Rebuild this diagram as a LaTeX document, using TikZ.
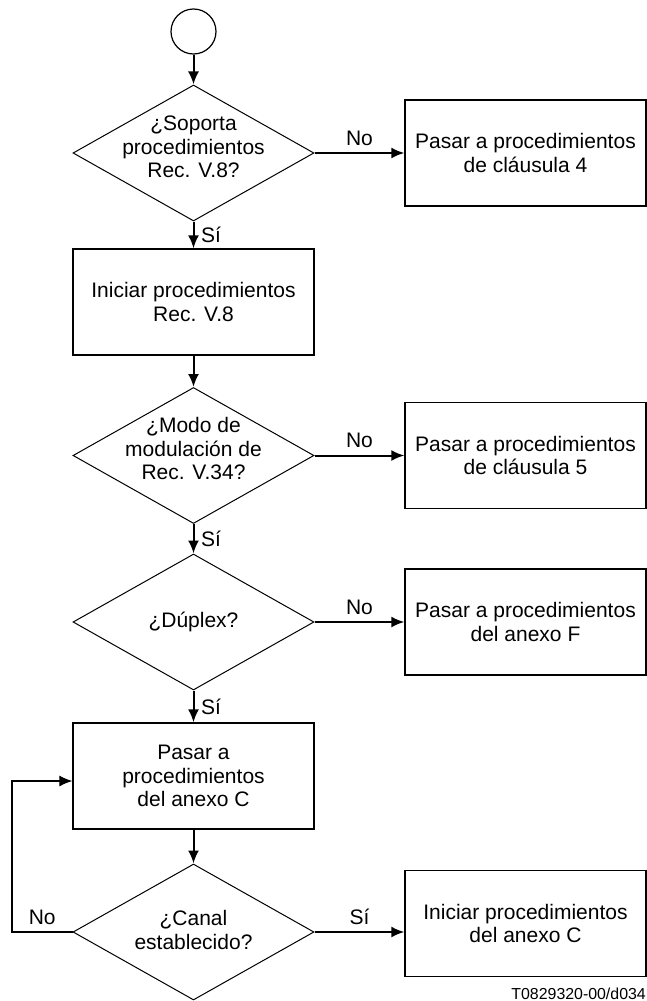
\documentclass[tikz,border=0pt]{standalone}
\usepackage{fontspec}
\setmainfont{Liberation Sans}
\usetikzlibrary{shapes.geometric,arrows.meta}

\tikzset{
  inicio/.style={circle,draw,line width=1.2pt,minimum size=45pt,inner sep=0pt},
  caja/.style={rectangle,draw,line width=1.3pt,minimum width=241pt,minimum height=106pt,
    inner sep=0pt,align=center},
  decision/.style={diamond,draw,line width=1pt,minimum width=241pt,minimum height=136pt,
    inner sep=0pt},
  texto/.style={align=center},
  flecha/.style={->,line width=2pt},
  si/.style={right=3pt,inner sep=3.5pt},
  no/.style={above=3pt,inner sep=3.5pt}
}

\begin{document}
\begin{tikzpicture}[x=1pt,y=-1pt,>={Latex[length=13pt,width=11pt]},
  every node/.style={font=\fontsize{21}{23.4}\selectfont}]
 \useasboundingbox (0,0) rectangle (647,1001);
 % columna principal
 \node[inicio] (ini) at (193.5,31.5) {};
 \node[decision,label={[texto,yshift=6pt]center:{¿Soporta\\procedimientos\\Rec. V.8?}}] (d1) at (193.5,153) {};
 \node[caja] (b2) at (193.5,302) {Iniciar procedimientos\\Rec. V.8};
 \node[decision,label={[texto,yshift=7pt]center:{¿Modo de\\modulación de\\Rec. V.34?}}] (d2) at (193.5,455.5) {};
 \node[decision,label={[texto]center:{¿Dúplex?}}] (d3) at (193.5,622) {};
 \node[caja] (b4) at (193.5,776) {Pasar a\\procedimientos\\del anexo C};
 \node[decision,label={[texto,yshift=2pt]center:{¿Canal\\establecido?}}] (d4) at (193.5,932) {};
 % columna derecha
 \node[caja] (r1) at (525.5,153) {Pasar a procedimientos\\de cláusula 4};
 \node[caja] (r2) at (525.5,455.5) {Pasar a procedimientos\\de cláusula 5};
 \node[caja] (r3) at (525.5,622) {Pasar a procedimientos\\del anexo F};
 \node[caja] (r4) at (525.5,923.5) {Iniciar procedimientos\\del anexo C};
 \coordinate (vuelta) at (12,781);

 \draw[flecha] (ini) -- (d1);
 \draw[flecha] (d1) -- node[si]{Sí} (b2);
 \draw[flecha] (b2) -- (d2);
 \draw[flecha] (d2) -- node[si]{Sí} (d3);
 \draw[flecha] (d3) -- node[si]{Sí} (b4);
 \draw[flecha] (b4) -- (d4);
 \draw[flecha] (d1) -- node[no]{No} (r1);
 \draw[flecha] (d2) -- node[no]{No} (r2);
 \draw[flecha] (d3) -- node[no]{No} (r3);
 \draw[flecha] (d4.east) -- node[no]{Sí} (d4.east -| r4.west);
 \draw[->,line width=1.2pt] (d4.west) -| node[pos=.25,no]{No} (vuelta) -- (vuelta -| b4.west);

 \node[anchor=base east,inner sep=0pt,font=\fontsize{15.9}{18}\selectfont] (ref) at (646,999) {T0829320-00/d034};
\end{tikzpicture}
\end{document}
